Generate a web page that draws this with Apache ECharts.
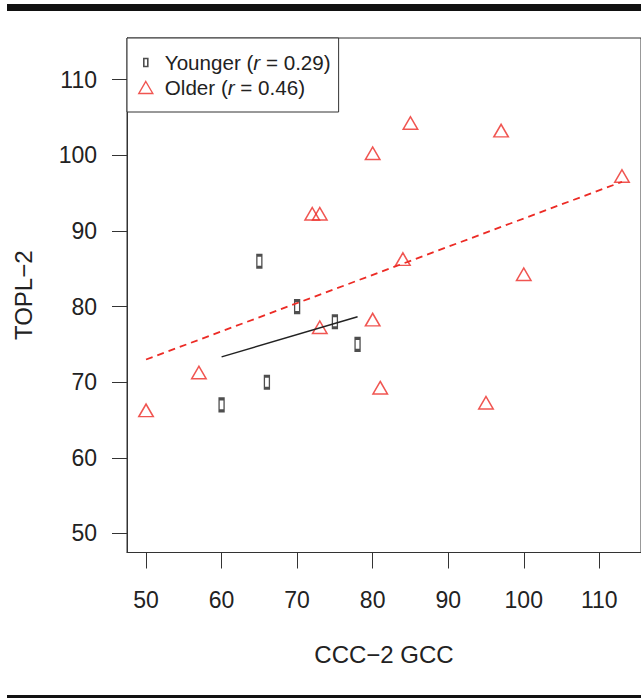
<!DOCTYPE html>
<html>
<head>
<meta charset="utf-8">
<script src="https://cdn.jsdelivr.net/npm/echarts@6/dist/echarts.min.js"></script>
<style>
html,body{margin:0;padding:0;background:#fff;}
#chart{width:641px;height:698px;}
</style>
</head>
<body>
<div id="chart"></div>
<script>
// ---- data ----
const groupNames = ['Younger', 'Older'];
const rValues = ['0.29', '0.46'];

const youngerX = [65, 70, 75, 78, 66, 60];
const youngerY = [86, 80, 78, 75, 70, 67];

const olderX = [50, 57, 72, 73, 73, 80, 80, 81, 84, 85, 95, 97, 100, 113];
const olderY = [66, 71, 92, 92, 77, 100, 78, 69, 86, 104, 67, 103, 84, 97];

// fitted regression lines (end points)
const youngerFitX = [60, 78];
const youngerFitY = [73.35, 78.65];
const olderFitX = [50, 113];
const olderFitY = [73.0, 96.5];

const xTicks = [50, 60, 70, 80, 90, 100, 110];
const yTicks = [50, 60, 70, 80, 90, 100, 110];

const xTitle = 'CCC\u22122 GCC';
const yTitle = 'TOPL\u22122';

// ---- chart ----
const FONT = '"Liberation Sans", Arial, Helvetica, sans-serif';
const RED = '#ec2b25';
const DARK = '#222222';
const AXIS = '#333333';

const zip = (xs, ys) => xs.map((x, i) => [x, ys[i]]);

const chart = echarts.init(document.getElementById('chart'), null, { renderer: 'svg' });

const legendLabel = (name) => {
  const i = groupNames.indexOf(name);
  return '{p|' + name + ' (}{i|r}{n| = ' + rValues[i] + ')}';
};

const option = {
  animation: false,
  backgroundColor: '#ffffff',
  grid: {
    left: 127, top: 38, width: 515.5, height: 514.5,
    show: true, borderColor: AXIS, borderWidth: 1, backgroundColor: 'transparent'
  },
  xAxis: {
    type: 'value', min: 47.48, max: 115.52,
    name: xTitle, nameLocation: 'middle', nameGap: 90,
    nameTextStyle: { fontFamily: FONT, fontSize: 24, color: DARK },
    axisLine: { show: true, lineStyle: { color: AXIS, width: 1 } },
    axisTick: { show: true, length: 16, customValues: xTicks, lineStyle: { color: AXIS, width: 1 } },
    axisLabel: { show: true, customValues: xTicks, margin: 36, fontFamily: FONT, fontSize: 23, color: DARK },
    splitLine: { show: false }
  },
  yAxis: {
    type: 'value', min: 47.48, max: 115.52,
    name: yTitle, nameLocation: 'middle', nameGap: 92, nameRotate: 90,
    nameTextStyle: { fontFamily: FONT, fontSize: 24, color: DARK },
    axisLine: { show: true, lineStyle: { color: AXIS, width: 1 } },
    axisTick: { show: true, length: 15, customValues: yTicks, lineStyle: { color: AXIS, width: 1 } },
    axisLabel: { show: true, customValues: yTicks, margin: 30, fontFamily: FONT, fontSize: 23, color: DARK },
    splitLine: { show: false }
  },
  legend: {
    orient: 'vertical', left: 127, top: 38,
    padding: [14, 8, 14, 11], itemGap: 4, itemWidth: 14, itemHeight: 12, itemTextGap: 6,
    borderColor: AXIS, borderWidth: 1, backgroundColor: '#ffffff',
    selectedMode: false,
    formatter: legendLabel,
    textStyle: {
      fontFamily: FONT, fontSize: 20.6, color: DARK,
      rich: {
        p: { fontFamily: FONT, fontSize: 20.6, color: DARK, lineHeight: 20, padding: [0, 0, 0, 7] },
        n: { fontFamily: FONT, fontSize: 20.6, color: DARK, lineHeight: 20 },
        i: { fontFamily: FONT, fontSize: 20.6, color: DARK, fontStyle: 'italic', lineHeight: 20 }
      }
    },
    data: [
      { name: groupNames[0], icon: 'path://M0,0M14,12M5,2h4v8h-4z',
        itemStyle: { color: 'rgba(0,0,0,0)', borderColor: DARK, borderWidth: 1.6 } },
      { name: groupNames[1], icon: 'triangle',
        itemStyle: { color: 'rgba(0,0,0,0)', borderColor: RED, borderWidth: 1.4 } }
    ]
  },
  series: [
    {
      name: groupNames[0], type: 'scatter', data: zip(youngerX, youngerY),
      symbol: 'rect', symbolSize: [5, 12],
      itemStyle: { color: 'rgba(0,0,0,0)', borderColor: DARK, borderWidth: 2 },
      z: 3
    },
    {
      name: groupNames[1], type: 'scatter', data: zip(olderX, olderY),
      symbol: 'triangle', symbolSize: [14.5, 12.5], symbolOffset: [0, '-16.7%'],
      itemStyle: { color: 'rgba(0,0,0,0)', borderColor: RED, borderWidth: 1.5 },
      z: 3
    },
    {
      name: 'youngerFit', type: 'line', data: zip(youngerFitX, youngerFitY),
      showSymbol: false, symbol: 'none', silent: true,
      lineStyle: { color: DARK, width: 1.5, type: 'solid' }, z: 4
    },
    {
      name: 'olderFit', type: 'line', data: zip(olderFitX, olderFitY),
      showSymbol: false, symbol: 'none', silent: true,
      lineStyle: { color: RED, width: 1.8, type: [7, 5] }, z: 4
    }
  ],
  graphic: [
    { type: 'rect', shape: { x: 7, y: 4, width: 640, height: 7 }, style: { fill: '#111111' }, silent: true },
    { type: 'rect', shape: { x: 7, y: 695, width: 640, height: 4 }, style: { fill: '#111111' }, silent: true }
  ]
};

chart.setOption(option);
</script>
</body>
</html>
